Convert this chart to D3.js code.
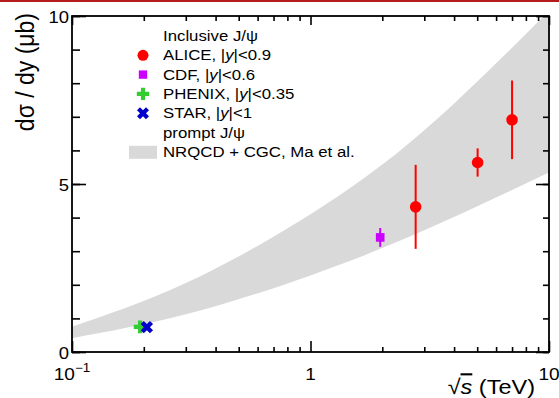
<!DOCTYPE html>
<meta charset="utf-8">
<style>
body { margin: 0; background: #fff; }
text { font-family: "Liberation Sans", Arial, sans-serif; fill: #000; }
</style>
<body>
<script src="https://cdn.jsdelivr.net/npm/d3@7"></script>
<script>
// data
var aliceS = [2.76, 5.02, 7.0], aliceY = [4.32, 5.64, 6.91], aliceErr = [1.25, 0.42, 1.17];
var cdfS = [1.96], cdfY = [3.41], cdfErr = [0.28];
var phenixS = [0.193], phenixY = [0.75], phenixErr = [0.07];
var starS = [0.206], starY = [0.74], starErr = [0.09];

// NRQCD + CGC band (lower / upper edge)
var bandS  = [0.1, 0.3, 1, 3, 10];
var bandLo = [0.41, 1.12, 2.28, 3.62, 5.34];
var bandHi = [0.75, 2.05, 4.1, 6.6, 10.15];

var yMajor = [0, 5, 10], yMinor = d3.range(0, 11);
var xMajor = [0.1, 1, 10];
var xMinor = [0.2,0.3,0.4,0.5,0.6,0.7,0.8,0.9,2,3,4,5,6,7,8,9];

var legendRows = ["Inclusive J/\u03c8", "ALICE, |y|<0.9", "CDF, |y|<0.6", "PHENIX, |y|<0.35", "STAR, |y|<1", "prompt J/\u03c8", "NRQCD + CGC, Ma et al."];

var W = 559, H = 398;
var L = 72, R = 549, T = 16, B = 352;
var SX = 1.12; // the picture is a bit wider than tall

var x = d3.scaleLog().domain([0.1, 10]).range([L, R]);
var y = d3.scaleLinear().domain([0, 10]).range([B, T]);

var svg = d3.select("body").append("svg").attr("width", W).attr("height", H);

svg.append("rect").attr("x", 0).attr("y", 0).attr("width", W).attr("height", 2).attr("fill", "#b41c1c");

svg.append("clipPath").attr("id", "clip")
  .append("rect").attr("x", L).attr("y", T).attr("width", R - L).attr("height", B - T);

function at(px, py, extra) { return "translate(" + px + "," + py + ") scale(" + SX + ",1)" + (extra || ""); }

// band
var band = bandS.map(function(s, i) { return {s: s, lo: bandLo[i], hi: bandHi[i]}; });
svg.append("path")
    .datum(band)
    .attr("clip-path", "url(#clip)")
    .attr("fill", "#d9d9d9")
    .attr("d", d3.area()
      .x(function(d) { return x(d.s); })
      .y0(function(d) { return y(d.lo); })
      .y1(function(d) { return y(d.hi); })
      .curve(d3.curveNatural));

// ticks
function ticks(axis, vals, len, tx, ty) {
  svg.append("g").attr("transform", "translate(" + tx + "," + ty + ")")
    .call(axis.tickValues(vals).tickSize(len).tickFormat(""))
    .call(function(g) { g.select(".domain").remove(); g.selectAll("line").attr("stroke", "#000").attr("stroke-width", 1.6); });
}
ticks(d3.axisRight(y), yMinor, 8, L, 0);
ticks(d3.axisRight(y), yMajor, 14, L, 0);
ticks(d3.axisLeft(y), yMinor, 6, R, 0);
ticks(d3.axisLeft(y), yMajor, 13, R, 0);
ticks(d3.axisTop(x), xMinor, 5, 0, B);
ticks(d3.axisTop(x), xMajor, 11, 0, B);
ticks(d3.axisBottom(x), xMinor, 5, 0, T);
ticks(d3.axisBottom(x), xMajor, 9, 0, T);

svg.append("rect").attr("x", L).attr("y", T).attr("width", R - L).attr("height", B - T)
  .attr("fill", "none").attr("stroke", "#000").attr("stroke-width", 1.8);

// tick labels
svg.selectAll(".ylab").data(yMajor).enter().append("text")
  .attr("transform", function(d) { return at(L - 3, y(d) + 6.5); })
  .attr("font-size", 16.5).attr("text-anchor", "end").text(function(d) { return d; });

var xl = svg.selectAll(".xlab").data(xMajor).enter().append("text")
  .attr("transform", function(d) { return at(x(d), 380); })
  .attr("font-size", 17).attr("text-anchor", "middle");
xl.append("tspan").text(function(d) { return d === 1 ? "1" : "10"; });
xl.filter(function(d) { return d < 1; }).append("tspan")
  .attr("dy", -8).attr("font-size", 12).text("\u22121");

// axis titles
svg.append("text").attr("transform", at(34, 13, " rotate(-90)"))
  .attr("text-anchor", "end").attr("font-size", 23).text("d\u03c3 / dy (\u03bcb)");

var xt = svg.append("text").attr("transform", at(535, 394)).attr("text-anchor", "end").attr("font-size", 21);
xt.append("tspan").text("\u221a");
xt.append("tspan").attr("font-style", "italic").attr("text-decoration", "overline").text("s");
xt.append("tspan").text(" (TeV)");

// data
var g = svg.append("g");
function errBars(sv, yv, ev, col, w) {
  g.selectAll(null).data(sv).enter().append("line")
    .attr("x1", function(d) { return x(d); }).attr("x2", function(d) { return x(d); })
    .attr("y1", function(d, i) { return y(yv[i] - ev[i]); })
    .attr("y2", function(d, i) { return y(yv[i] + ev[i]); })
    .attr("stroke", col).attr("stroke-width", w);
}
errBars(aliceS, aliceY, aliceErr, "#ff0000", 2);
errBars(cdfS, cdfY, cdfErr, "#cc00ff", 2);
errBars(phenixS, phenixY, phenixErr, "#33cc33", 2);
errBars(starS, starY, starErr, "#0000cc", 2);

var sym = function(type, size) { return d3.symbol().type(type).size(size); };
g.selectAll(null).data(aliceS).enter().append("circle")
  .attr("cx", function(d) { return x(d); }).attr("cy", function(d, i) { return y(aliceY[i]); })
  .attr("r", 5.8).attr("fill", "#ff0000");
g.selectAll(null).data(cdfS).enter().append("path")
  .attr("transform", function(d, i) { return "translate(" + x(d) + "," + y(cdfY[i]) + ")"; })
  .attr("d", sym(d3.symbolSquare, 75)).attr("fill", "#cc00ff");
g.selectAll(null).data(phenixS).enter().append("path")
  .attr("transform", function(d, i) { return "translate(" + x(d) + "," + y(phenixY[i]) + ")"; })
  .attr("d", sym(d3.symbolCross, 90)).attr("fill", "#33cc33");
g.selectAll(null).data(starS).enter().append("path")
  .attr("transform", function(d, i) { return "translate(" + x(d) + "," + y(starY[i]) + ") rotate(45)"; })
  .attr("d", sym(d3.symbolCross, 95)).attr("fill", "#0000cc");

// legend
var lx = 163, ly0 = 41, dy = 19.3, mx = 143;
var lt = svg.selectAll(".leg").data(legendRows).enter().append("text")
  .attr("font-size", 15).attr("transform", function(d, i) { return at(lx, ly0 + i * dy); });
lt.each(function(d) {
  var t = d3.select(this);
  var k = d.indexOf("|y|");
  if (k < 0) { t.text(d); return; }
  t.append("tspan").text(d.slice(0, k + 1));
  t.append("tspan").attr("font-style", "italic").text("y");
  t.append("tspan").text(d.slice(k + 2));
});
svg.append("circle").attr("cx", mx).attr("cy", ly0 + dy - 5).attr("r", 5.5).attr("fill", "#ff0000");
svg.append("path").attr("transform", "translate(" + mx + "," + (ly0 + 2 * dy - 5) + ")")
  .attr("d", sym(d3.symbolSquare, 70)).attr("fill", "#cc00ff");
svg.append("path").attr("transform", "translate(" + mx + "," + (ly0 + 3 * dy - 5) + ")")
  .attr("d", sym(d3.symbolCross, 85)).attr("fill", "#33cc33");
svg.append("path").attr("transform", "translate(" + mx + "," + (ly0 + 4 * dy - 5) + ") rotate(45)")
  .attr("d", sym(d3.symbolCross, 90)).attr("fill", "#0000cc");
svg.append("rect").attr("x", 129).attr("y", ly0 + 6 * dy - 11).attr("width", 28).attr("height", 13).attr("fill", "#d9d9d9");
</script>
